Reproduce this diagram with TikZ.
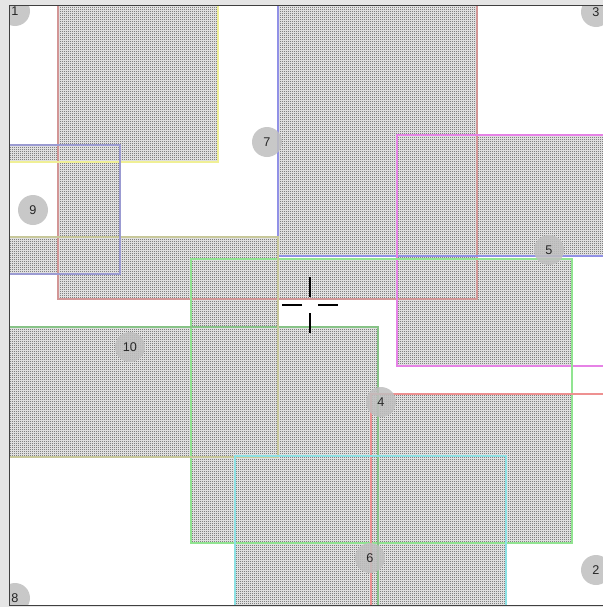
\documentclass[tikz,border=0pt]{standalone}
\usepackage{fontspec}
\setmainfont{Liberation Sans}
\usetikzlibrary{patterns.meta}

\definecolor{rose}{RGB}{210,150,150}
\definecolor{lemon}{RGB}{240,240,150}
\definecolor{lavender}{RGB}{145,145,230}
\definecolor{orchid}{RGB}{230,130,230}
\definecolor{mint}{RGB}{145,228,145}
\definecolor{sage}{RGB}{135,195,135}
\definecolor{khaki}{RGB}{200,200,155}
\definecolor{slate}{RGB}{155,155,210}
\definecolor{salmon}{RGB}{238,145,145}
\definecolor{aqua}{RGB}{140,225,228}

\tikzdeclarepattern{
  name=pixdots,
  tile size={(1.5pt,1.5pt)},
  bottom left={(0pt,0pt)}, top right={(1.5pt,1.5pt)},
  code={\fill (0pt,0pt) rectangle (0.75pt,0.75pt);}
}

\begin{document}
\begin{tikzpicture}[x=0.75pt,y=-0.75pt,
  tag/.style={circle,fill=black!25,fill opacity=0.85,text opacity=1,text=black!85,
    minimum size=22.5pt,inner sep=0pt,font=\fontsize{9.5}{10}\selectfont},
  box/.style={line width=0.9pt}]
\useasboundingbox (0,0) rectangle (603,607);
\fill[black!10] (0,0) rectangle (603,607);
\fill[white] (9,5) rectangle (603,605);
\begin{scope}
\clip (9,5) rectangle (603,605);
% overlaps of two boxes
\fill[black!12] \foreach \xa/\ya/\xb/\yb in {58/-50/218/162, 278/-50/477/256,
  397/135/477/299, 191/259/477/299, 58/237/278/299, 58/145/120/274,
  -50/145/120/162, 397/135/700/256, 397/259/572/366, 191/327/378/543,
  191/259/278/457, 371/394/572/543, 235/456/506/543, -50/327/278/457,
  371/394/378/700, 235/456/378/700, -50/237/120/274, 371/456/506/700}{
  (\xa,\ya) rectangle (\xb,\yb)};
\fill[pattern=pixdots] \foreach \xa/\ya/\xb/\yb in {58/-50/218/162, 278/-50/477/256,
  397/135/477/299, 191/259/477/299, 58/237/278/299, 58/145/120/274,
  -50/145/120/162, 397/135/700/256, 397/259/572/366, 191/327/378/543,
  191/259/278/457, 371/394/572/543, 235/456/506/543, -50/327/278/457,
  371/394/378/700, 235/456/378/700, -50/237/120/274, 371/456/506/700}{
  (\xa,\ya) rectangle (\xb,\yb)};
% boxes
\foreach \xa/\ya/\xb/\yb/\c in {58/-50/477/299/rose, -50/-50/218/162/lemon,
  278/-50/700/256/lavender, 397/135/700/366/orchid, 191/259/572/543/mint,
  -50/327/378/700/sage, -50/237/278/457/khaki, -50/145/120/274/slate,
  371/394/700/700/salmon, 235/456/506/700/aqua}{
\draw[box,\c] (\xa,\ya) rectangle (\xb,\yb);
}
% tags
\node[tag] (t1) at (15,11) {1};
\node[tag] (t3) at (596,12) {3};
\node[tag] (t8) at (15,598) {8};
\node[tag] (t2) at (596,570) {2};
\node[tag] (t7) at (267,142) {7};
\node[tag] (t9) at (33,210) {9};
\node[tag] (t10) at (130,347) {10};
\node[tag] (t5) at (549,250) {5};
\node[tag] (t4) at (381,402) {4};
\node[tag] (t6) at (370,558) {6};
\end{scope}
% frame
\draw[black!75,line width=0.75pt] (603,5) -- (9,5) -- (9,605) -- (603,605);
% cross
\coordinate (c) at (310,305);
\draw[line width=1.5pt] ([yshift=-6]c) -- ([yshift=-21]c);
\draw[line width=1.5pt] ([yshift=6]c) -- ([yshift=21]c);
\draw[line width=1.5pt] ([xshift=-6]c) -- ([xshift=-21]c);
\draw[line width=1.5pt] ([xshift=6]c) -- ([xshift=21]c);
\end{tikzpicture}
\end{document}
